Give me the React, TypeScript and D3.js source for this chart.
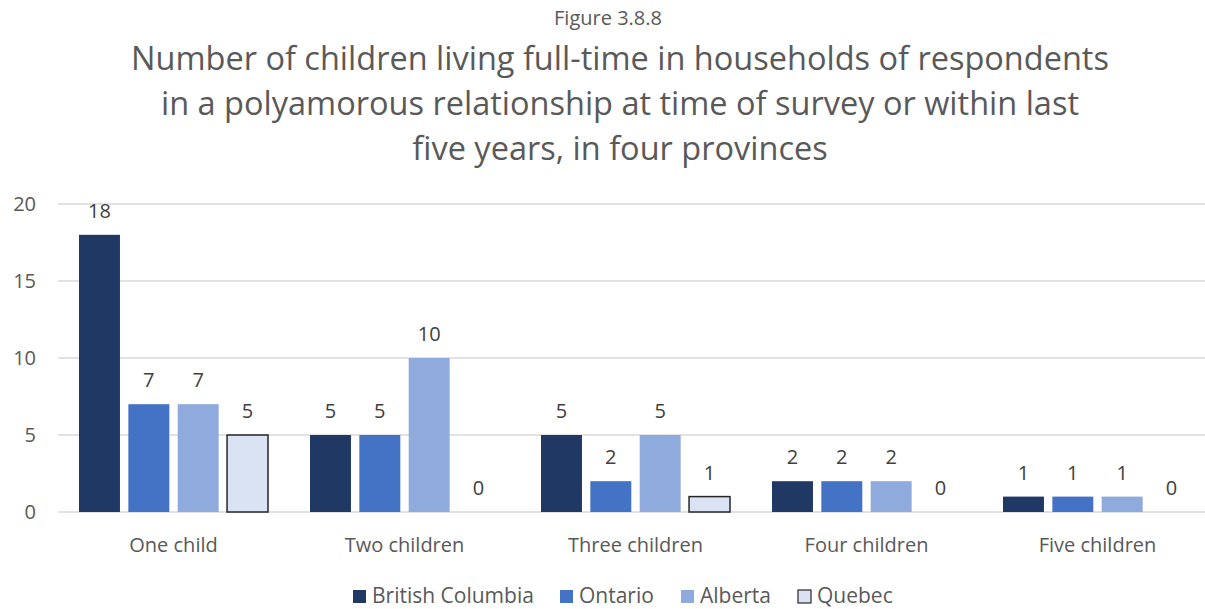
import React from "react";
import * as d3 from "d3";

const categories = ["One child", "Two children", "Three children", "Four children", "Five children"];
const seriesNames = ["British Columbia", "Ontario", "Alberta", "Quebec"];
const britishColumbia = [18, 5, 5, 2, 1];
const ontario = [7, 5, 2, 2, 1];
const alberta = [7, 10, 5, 2, 1];
const quebec = [5, 0, 1, 0, 0];
const yTicks = [0, 5, 10, 15, 20];
const titleLines = [
  "Number of children living full-time in households of respondents",
  "in a polyamorous relationship at time of survey or within last",
  "five years, in four provinces",
];

const seriesValues = [britishColumbia, ontario, alberta, quebec];
const colors = ["#203864", "#4472C4", "#8FAADC", "#DAE3F3"];
const strokes = ["none", "none", "none", "#262626"];
const FONT = "'Open Sans', Lato, sans-serif";

export default function App() {
  const W = 1205, H = 609;
  const left = 58, right = 1213, top = 204, bottom = 512;
  const x0 = d3.scaleBand<string>().domain(categories).range([left, right]).paddingInner(0).paddingOuter(0);
  const x1 = d3.scaleBand<string>().domain(seriesNames).range([21, x0.bandwidth() - 21]).paddingInner(0.17);
  const y = d3.scaleLinear().domain([0, 20]).range([bottom, top]);

  const legendX = [353, 560, 681, 798];

  return (
    <svg width={W} height={H} style={{ position: "absolute", left: 0, top: 0, background: "#fff" }} fontFamily={FONT}>
      <text x={608} y={25} textAnchor="middle" fontSize={20} fill="#595959">Figure 3.8.8</text>
      {titleLines.map((t, i) => (
        <text key={i} x={620} y={70 + i * 45} textAnchor="middle" fontSize={32.5} fill="#595959">{t}</text>
      ))}
      {yTicks.map((t) => (
        <g key={t}>
          <line x1={left} x2={W} y1={y(t)} y2={y(t)} stroke="#D9D9D9" strokeWidth={1.5} />
          <text x={36} y={y(t) + 7} textAnchor="end" fontSize={20} fill="#595959">{t}</text>
        </g>
      ))}
      {categories.map((c, ci) => (
        <g key={c} transform={`translate(${x0(c)},0)`}>
          {seriesNames.map((s, si) => {
            const v = seriesValues[si][ci];
            const bx = x1(s)!;
            const bw = x1.bandwidth();
            return (
              <g key={s}>
                {v > 0 && (
                  <rect x={bx} y={y(v)} width={bw} height={y(0) - y(v)} fill={colors[si]}
                    stroke={strokes[si]} strokeWidth={strokes[si] === "none" ? 0 : 1.5} />
                )}
                <text x={bx + bw / 2} y={y(v) - 17} textAnchor="middle" fontSize={20} fill="#404040">{v}</text>
              </g>
            );
          })}
          <text x={x0.bandwidth() / 2} y={552} textAnchor="middle" fontSize={20} fill="#595959">{c}</text>
        </g>
      ))}
      {seriesNames.map((s, si) => (
        <g key={s}>
          <rect x={legendX[si]} y={590} width={13} height={13} fill={colors[si]}
            stroke={strokes[si]} strokeWidth={strokes[si] === "none" ? 0 : 1.2} />
          <text x={legendX[si] + 19} y={603} fontSize={21} fill="#595959">{s}</text>
        </g>
      ))}
    </svg>
  );
}
